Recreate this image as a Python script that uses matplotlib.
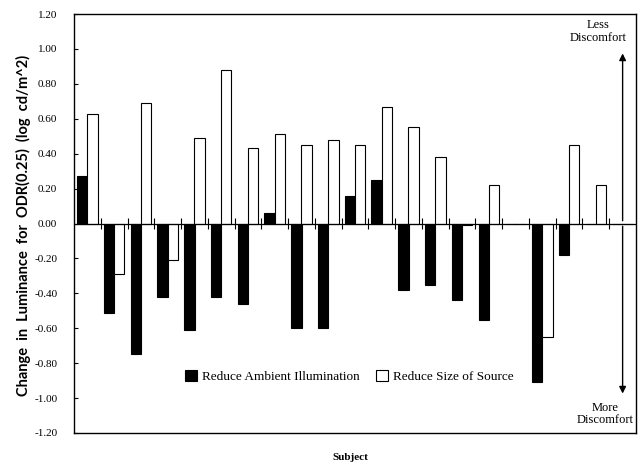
import matplotlib
matplotlib.use("Agg")
import matplotlib.pyplot as plt
import numpy as np

# Data
subjects = list(range(1, 22))
ambient = [0.27, -0.51, -0.75, -0.42, -0.61, -0.42, -0.46, 0.06, -0.60, -0.60,
           0.16, 0.25, -0.38, -0.35, -0.44, -0.55, 0.0, -0.91, -0.18, 0.0, 0.0]
size_src = [0.63, -0.29, 0.69, -0.21, 0.49, 0.88, 0.43, 0.51, 0.45, 0.48,
            0.45, 0.67, 0.55, 0.38, -0.01, 0.22, 0.0, -0.65, 0.45, 0.22, 0.0]
yticks = [1.20, 1.00, 0.80, 0.60, 0.40, 0.20, 0.00, -0.20, -0.40, -0.60, -0.80, -1.00, -1.20]

serif = ["Liberation Serif", "DejaVu Serif"]
plt.rcParams['font.family'] = serif

fig = plt.figure(figsize=(6.41, 4.76), dpi=100)
ax = fig.add_axes([74/641, 43/476, (636-74)/641, (433-14)/476])

x = np.arange(len(subjects))
w = 0.39
ax.bar(x - 0.19, ambient, width=w, color='black', edgecolor='black', linewidth=0.8,
       label='Reduce Ambient Illumination')
ax.bar(x + 0.19, size_src, width=w, color='white', edgecolor='black', linewidth=0.8,
       label='Reduce Size of Source')

ax.set_xlim(-0.5, len(subjects) - 0.5)
ax.set_ylim(-1.2, 1.2)
ax.set_yticks(yticks)
ax.set_yticklabels([f"{v:.2f}" for v in yticks], fontsize=8)
ax.tick_params(axis='y', direction='in', length=3, width=0.8, pad=12)
ax.set_xticks([])
for s in ax.spines.values():
    s.set_linewidth(1.0)

# zero line with small category separator ticks
ax.axhline(0, color='black', linewidth=0.9)
ax.vlines(x[:-1] + 0.5, -0.03, 0.03, color='black', linewidth=0.8)

# double-headed arrow in last slot
xa = x[-1]
ax.annotate('', xy=(xa, 0.99), xytext=(xa, 0.0),
            arrowprops=dict(arrowstyle='-|>', color='black', lw=1.0, mutation_scale=10))
ax.annotate('', xy=(xa, -0.99), xytext=(xa, 0.0),
            arrowprops=dict(arrowstyle='-|>', color='black', lw=1.0, mutation_scale=10))
ax.text(xa - 0.9, 1.17, 'Less\nDiscomfort', ha='center', va='top', fontsize=9,
        linespacing=1.1)
ax.text(xa - 0.65, -1.02, 'More\nDiscomfort', ha='center', va='top', fontsize=9,
        linespacing=1.1)

fig.text(23/641, 1 - 225/476, 'Change  in  Luminance  for  ODR(0.25)  (log  cd/m^2)',
         rotation=90, ha='center', va='center', fontsize=10.5, fontweight='bold',
         family=['Lato', 'DejaVu Sans'])
fig.text(350/641, 1 - 457/476, 'Subject', ha='center', va='center',
         fontsize=8, fontweight='bold')

ax.legend(loc='center', bbox_to_anchor=(0.49, 0.135), ncol=2, frameon=False,
          fontsize=9.5, handlelength=0.9, handleheight=0.9, columnspacing=1.2,
          handletextpad=0.4)

fig.savefig('out.png', dpi=100)
